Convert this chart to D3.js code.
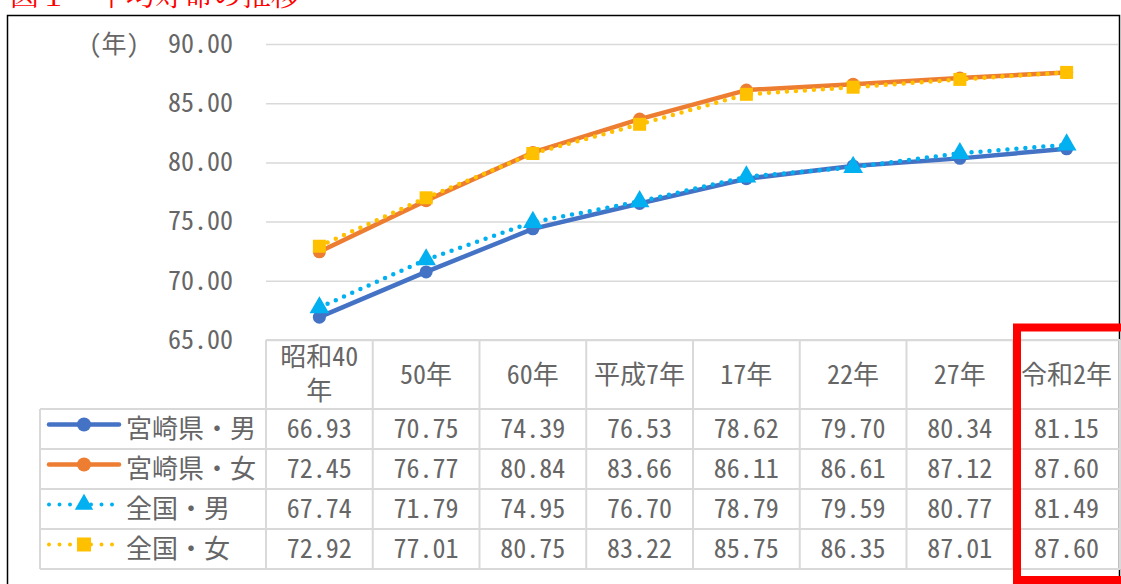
<!DOCTYPE html>
<html>
<head>
<meta charset="utf-8">
<script src="https://cdn.jsdelivr.net/npm/d3@7"></script>
<style>
  html, body { margin: 0; padding: 0; background: #fff; }
  svg { display: block; }
</style>
</head>
<body>
<div id="chart"></div>
<script>
// data
var categories = [["昭和40", "年"], ["50年"], ["60年"], ["平成7年"], ["17年"], ["22年"], ["27年"], ["令和2年"]];
var seriesNames = ["宮崎県・男", "宮崎県・女", "全国・男", "全国・女"];
var miyazakiMale   = [66.93, 70.75, 74.39, 76.53, 78.62, 79.70, 80.34, 81.15];
var miyazakiFemale = [72.45, 76.77, 80.84, 83.66, 86.11, 86.61, 87.12, 87.60];
var nationalMale   = [67.74, 71.79, 74.95, 76.70, 78.79, 79.59, 80.77, 81.49];
var nationalFemale = [72.92, 77.01, 80.75, 83.22, 85.75, 86.35, 87.01, 87.60];
var yTicks = [65, 70, 75, 80, 85, 90];

var FONT = "'Noto Sans Mono CJK JP','Noto Sans CJK JP',sans-serif";
var TEXT = "#666666", GRID = "#d9d9d9";

var series = [
  {name: seriesNames[0], values: miyazakiMale,   color: "#4472C4", dotted: false, marker: "circle"},
  {name: seriesNames[1], values: miyazakiFemale, color: "#ED7D31", dotted: false, marker: "circle"},
  {name: seriesNames[2], values: nationalMale,   color: "#00B0F0", dotted: true,  marker: "triangle"},
  {name: seriesNames[3], values: nationalFemale, color: "#FFC000", dotted: true,  marker: "square"}
];

var W = 1121, H = 584;
var svg = d3.select("#chart").append("svg").attr("width", W).attr("height", H);

// title (top half is outside the picture)
svg.append("text")
  .attr("x", 10).attr("y", 6)
  .attr("font-family", "'Noto Serif CJK JP','Noto Sans CJK JP',serif")
  .attr("font-size", 29).attr("fill", "#FF0000")
  .text("図１　平均寿命の推移");

// chart border
svg.append("rect")
  .attr("x", 7.5).attr("y", 15.5).attr("width", 1112).attr("height", 620)
  .attr("fill", "none").attr("stroke", "#000").attr("stroke-width", 1.5);

var plotLeft = 266, plotRight = 1120, plotTop = 44, plotBottom = 340;
var rowH = 40, headBottom = 409, legendLeft = 40;

var x = d3.scaleBand().domain(d3.range(categories.length)).range([plotLeft, plotRight]).padding(0);
var y = d3.scaleLinear().domain([65, 90]).range([plotBottom, plotTop]);

// y axis with gridlines
var yAxis = svg.append("g")
  .attr("transform", "translate(" + plotLeft + ",0)")
  .call(d3.axisLeft(y).tickValues(yTicks).tickFormat(d3.format(".2f"))
    .tickSize(-(plotRight - plotLeft - 2)).tickPadding(33));
yAxis.select(".domain").remove();
yAxis.selectAll(".tick line").attr("stroke", GRID).attr("stroke-width", 1.5);
yAxis.selectAll(".tick text")
  .attr("font-family", FONT).attr("font-size", 26).attr("fill", TEXT);

svg.append("text")
  .attr("x", 114).attr("y", 44).attr("dy", "0.35em")
  .attr("text-anchor", "middle")
  .attr("font-family", FONT).attr("font-size", 25).attr("fill", TEXT)
  .text("(年)");

// data table grid
var tableBottom = headBottom + rowH * series.length;
var grid = svg.append("g").attr("stroke", GRID).attr("stroke-width", 2);
grid.append("line").attr("x1", plotLeft).attr("x2", plotRight).attr("y1", plotBottom).attr("y2", plotBottom);
d3.range(series.length + 1).forEach(function (i) {
  var yy = headBottom + i * rowH;
  grid.append("line").attr("x1", legendLeft).attr("x2", plotRight).attr("y1", yy).attr("y2", yy);
});
grid.append("line").attr("x1", legendLeft).attr("x2", legendLeft).attr("y1", headBottom).attr("y2", tableBottom);
d3.range(categories.length + 1).forEach(function (i) {
  var xx = plotLeft + i * x.bandwidth();
  grid.append("line").attr("x1", xx).attr("x2", xx).attr("y1", plotBottom).attr("y2", tableBottom);
});

// header cells
categories.forEach(function (lines, i) {
  var cx = x(i) + x.bandwidth() / 2;
  var t = svg.append("text")
    .attr("text-anchor", "middle")
    .attr("font-family", FONT).attr("font-size", 26).attr("fill", TEXT);
  if (lines.length === 1) {
    t.append("tspan").attr("x", cx).attr("y", 375).attr("dy", "0.35em").text(lines[0]);
  } else {
    t.append("tspan").attr("x", cx).attr("y", 357).attr("dy", "0.35em").text(lines[0]);
    t.append("tspan").attr("x", cx).attr("y", 391).attr("dy", "0.35em").text(lines[1]);
  }
});

// marker drawing
function drawMarker(g, type, cx, cy, color, size) {
  if (type === "circle") {
    g.append("circle").attr("cx", cx).attr("cy", cy).attr("r", size / 2).attr("fill", color);
  } else if (type === "square") {
    g.append("rect").attr("x", cx - size / 2).attr("y", cy - size / 2)
      .attr("width", size).attr("height", size).attr("fill", color);
  } else {
    g.append("path").attr("d", d3.symbol(d3.symbolTriangle, size * size * 0.75)())
      .attr("transform", "translate(" + cx + "," + cy + ")").attr("fill", color);
  }
}

// lines and markers
var line = d3.line()
  .x(function (d, i) { return x(i) + x.bandwidth() / 2; })
  .y(function (d) { return y(d); });

series.forEach(function (s) {
  var g = svg.append("g");
  g.append("path")
    .attr("d", line(s.values))
    .attr("fill", "none").attr("stroke", s.color)
    .attr("stroke-width", 4.5)
    .attr("stroke-linecap", "round").attr("stroke-linejoin", "round")
    .attr("stroke-dasharray", s.dotted ? "0,9" : null);
  s.values.forEach(function (v, i) {
    drawMarker(g, s.marker, x(i) + x.bandwidth() / 2, y(v), s.color, s.marker === "triangle" ? 15 : 13);
  });
});

// data rows with legend keys
series.forEach(function (s, r) {
  var cy = headBottom + r * rowH + rowH / 2;
  var key = svg.append("g");
  key.append("line")
    .attr("x1", 49).attr("x2", 119).attr("y1", cy - 4.5).attr("y2", cy - 4.5)
    .attr("stroke", s.color).attr("stroke-width", s.dotted ? 4 : 4.5)
    .attr("stroke-linecap", "round")
    .attr("stroke-dasharray", s.dotted ? "0,10.5" : null);
  drawMarker(key, s.marker, 84, cy - 4.5, s.color, 14);

  svg.append("text")
    .attr("x", 126).attr("y", cy).attr("dy", "0.35em")
    .attr("font-family", FONT).attr("font-size", 26).attr("fill", TEXT)
    .text(s.name);

  svg.append("g").selectAll("text")
    .data(s.values).enter().append("text")
    .attr("x", function (d, i) { return x(i) + x.bandwidth() / 2; })
    .attr("y", cy).attr("dy", "0.35em")
    .attr("text-anchor", "middle")
    .attr("font-family", FONT).attr("font-size", 26).attr("fill", TEXT)
    .text(function (d) { return d3.format(".2f")(d); });
});

// red highlight box around the last column
svg.append("rect")
  .attr("x", 1017).attr("y", 327.5).attr("width", 140).attr("height", 252.5)
  .attr("fill", "none").attr("stroke", "#FF0000").attr("stroke-width", 8);
</script>
</body>
</html>
